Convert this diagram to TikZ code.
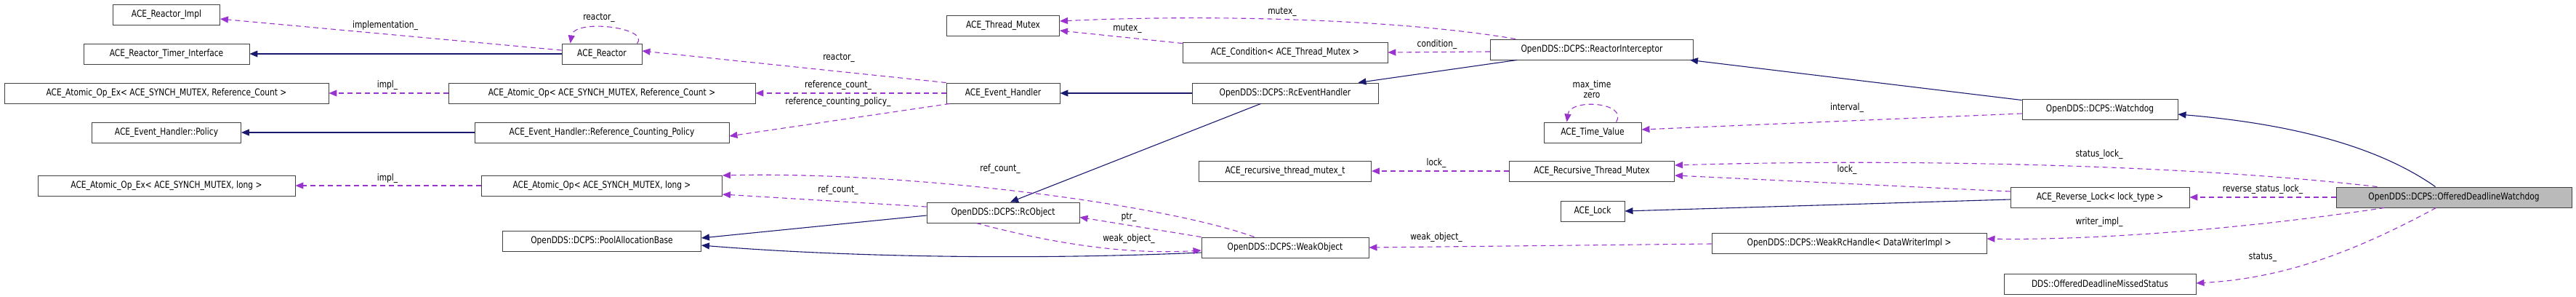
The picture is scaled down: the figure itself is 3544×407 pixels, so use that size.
\documentclass[tikz,border=0pt]{standalone}
\usepackage{fontspec}
\setmainfont{DejaVu Sans}[FakeStretch=0.82]
\usetikzlibrary{arrows.meta}
\definecolor{use}{HTML}{9A32CD}
\definecolor{inh}{HTML}{191970}
\begin{document}
\begin{tikzpicture}[x=1pt,y=-1pt,
  box/.style={draw=black!75,line width=0.9pt,rectangle,minimum height=28pt,inner sep=0pt,font=\fontsize{13}{14}\selectfont},
  lbl/.style={font=\fontsize{13}{14}\selectfont,inner sep=1pt},
  usea/.style={draw=use,line width=1.1pt,dash pattern=on 7pt off 5pt,-{Triangle[length=11pt,width=9pt,fill=use]}},
  inha/.style={draw=inh,line width=1.1pt,-{Triangle[length=11pt,width=9pt,fill=inh]}}]
\useasboundingbox (0,0) rectangle (3544,407);
% nodes
\node[box,minimum width=147] (rimpl) at (229,20) {ACE\_Reactor\_Impl};
\node[box,minimum width=228] (rti) at (229,74) {ACE\_Reactor\_Timer\_Interface};
\node[box,minimum width=446] (aoexrc) at (229,128) {ACE\_Atomic\_Op\_Ex< ACE\_SYNCH\_MUTEX, Reference\_Count >};
\node[box,minimum width=205] (pol) at (229,182) {ACE\_Event\_Handler::Policy};
\node[box,minimum width=354] (aoexl) at (229,255) {ACE\_Atomic\_Op\_Ex< ACE\_SYNCH\_MUTEX, long >};
\node[box,minimum width=110] (reac) at (828,74) {ACE\_Reactor};
\node[box,minimum width=422] (aorc) at (828,128) {ACE\_Atomic\_Op< ACE\_SYNCH\_MUTEX, Reference\_Count >};
\node[box,minimum width=350] (rcp) at (828,182) {ACE\_Event\_Handler::Reference\_Counting\_Policy};
\node[box,minimum width=331] (aol) at (828,255) {ACE\_Atomic\_Op< ACE\_SYNCH\_MUTEX, long >};
\node[box,minimum width=273] (pab) at (828,331) {OpenDDS::DCPS::PoolAllocationBase};
\node[box,minimum width=155] (tm) at (1380,35) {ACE\_Thread\_Mutex};
\node[box,minimum width=156] (eh) at (1380,128) {ACE\_Event\_Handler};
\node[box,minimum width=210] (rco) at (1380,292) {OpenDDS::DCPS::RcObject};
\node[box,minimum width=282] (cond) at (1768,72) {ACE\_Condition< ACE\_Thread\_Mutex >};
\node[box,minimum width=256] (rceh) at (1768,128) {OpenDDS::DCPS::RcEventHandler};
\node[box,minimum width=237] (rtm) at (1768,235) {ACE\_recursive\_thread\_mutex\_t};
\node[box,minimum width=230] (wo) at (1768,340) {OpenDDS::DCPS::WeakObject};
\node[box,minimum width=279] (ri) at (2190,68) {OpenDDS::DCPS::ReactorInterceptor};
\node[box,minimum width=134] (tv) at (2191,182) {ACE\_Time\_Value};
\node[box,minimum width=227] (rtmx) at (2190,235) {ACE\_Recursive\_Thread\_Mutex};
\node[box,minimum width=88] (lock) at (2191,290) {ACE\_Lock};
\node[box,minimum width=378] (wrh) at (2544,334) {OpenDDS::DCPS::WeakRcHandle< DataWriterImpl >};
\node[box,minimum width=214] (wd) at (2889,150) {OpenDDS::DCPS::Watchdog};
\node[box,minimum width=246] (rl) at (2889,271) {ACE\_Reverse\_Lock< lock\_type >};
\node[box,minimum width=324,fill=black!27] (odw) at (3376,271) {OpenDDS::DCPS::OfferedDeadlineWatchdog};
\node[box,minimum width=264] (odms) at (2889,390) {DDS::OfferedDeadlineMissedStatus};
% inheritance
\draw[inha] (reac) -- (rti);
\draw[inha] (rcp) -- (pol);
\draw[inha] (rceh) -- (eh);
\draw[inha] ([shift={(95,0)}]rceh.south west) -- ([shift={(10,0)}]rco.north);
\draw[inha] ([shift={(0,4)}]rco.west) -- ([shift={(0,-4)}]pab.east);
\draw[inha] ([shift={(0,7)}]wo.west) .. controls (1400,358) and (1150,352) .. ([shift={(0,6)}]pab.east);
\draw[inha] ([shift={(37,0)}]ri.south west) -- ([shift={(-28,0)}]rceh.north east);
\draw[inha] ([shift={(0,2)}]wd.north west) -- ([shift={(-5,0)}]ri.south east);
\draw[inha] ([shift={(137,0)}]odw.north west) .. controls (3270,200) and (3150,170) .. ([shift={(0,7)}]wd.east);
\draw[inha] ([shift={(0,3)}]rl.west) -- (lock.east);
% usage
\draw[usea] ([shift={(0,-5)}]reac.west) -- ([shift={(0,6)}]rimpl.east);
\node[lbl] (l1) at (530,35) {implementation\_};
\draw[usea] ([shift={(-7,0)}]reac.north east) .. controls (895,38) and (790,25) .. ([shift={(12,0)}]reac.north west);
\node[lbl] (l2) at (824,24) {reactor\_};
\draw[usea] (eh.north west) -- ([shift={(0,-4)}]reac.east);
\node[lbl] (l3) at (1154,79) {reactor\_};
\draw[usea] (aorc) -- (aoexrc);
\node[lbl] (l4) at (533,117) {impl\_};
\draw[usea] (eh) -- (aorc);
\node[lbl] (l5) at (1153,117) {reference\_count\_};
\draw[usea] ([shift={(5,0)}]eh.south west) -- ([shift={(0,5)}]rcp.east);
\node[lbl] (l6) at (1153,140) {reference\_counting\_policy\_};
\draw[usea] (aol) -- (aoexl);
\node[lbl] (l7) at (533,245) {impl\_};
\draw[usea] ([shift={(0,-8)}]rco.west) -- ([shift={(0,12)}]aol.east);
\node[lbl] (l8) at (1153,261) {ref\_count\_};
\draw[usea] ([shift={(73,0)}]wo.north west) .. controls (1600,280) and (1250,235) .. ([shift={(0,-14)}]aol.east);
\node[lbl] (l9) at (1376,232) {ref\_count\_};
\draw[usea] (wo.north west) -- ([shift={(0,-8)}]rco.south east);
\node[lbl] (l10) at (1553,298) {ptr\_};
\draw[usea] ([shift={(-37,0)}]rco.south) .. controls (1450,335) and (1550,350) .. ([shift={(0,4)}]wo.west);
\node[lbl] (l11) at (1553,328) {weak\_object\_};
\draw[usea] ([shift={(0,2)}]cond.north west) -- ([shift={(0,7)}]tm.east);
\node[lbl] (l12) at (1551,39) {mutex\_};
\draw[usea] ([shift={(35,0)}]ri.north west) .. controls (1950,30) and (1700,18) .. ([shift={(0,-6)}]tm.east);
\node[lbl] (l13) at (1764,16) {mutex\_};
\draw[usea] ([shift={(0,3)}]ri.west) -- (cond.east);
\node[lbl] (l14) at (1977,61) {condition\_};
\draw[usea] ([shift={(100,0)}]tv.north west) .. controls (2240,140) and (2160,135) .. ([shift={(32,0)}]tv.north west);
\node[lbl,align=center] (l15) at (2190,123) {max\_time\\zero};
\draw[usea] ([shift={(0,6)}]wd.west) -- ([shift={(0,-4)}]tv.east);
\node[lbl] (l16) at (2541,148) {interval\_};
\draw[usea] (rtmx) -- (rtm);
\node[lbl] (l17) at (1976,224) {lock\_};
\draw[usea] ([shift={(0,-8)}]rl.west) -- ([shift={(0,6)}]rtmx.east);
\node[lbl] (l18) at (2541,233) {lock\_};
\draw[usea] ([shift={(57,0)}]odw.north west) .. controls (3000,225) and (2600,218) .. ([shift={(0,-8)}]rtmx.east);
\node[lbl] (l19) at (2888,212) {status\_lock\_};
\draw[usea] (odw) -- (rl);
\node[lbl] (l20) at (3113,260) {reverse\_status\_lock\_};
\draw[usea] ([shift={(67,0)}]odw.south west) .. controls (3050,320) and (2850,330) .. ([shift={(0,-6)}]wrh.east);
\node[lbl] (l21) at (2888,305) {writer\_impl\_};
\draw[usea] ([shift={(138,0)}]odw.south west) .. controls (3250,340) and (3150,382) .. ([shift={(0,-1)}]odms.east);
\node[lbl] (l22) at (3113,353) {status\_};
\draw[usea] ([shift={(0,1)}]wrh.west) -- (wo.east);
\node[lbl] (l23) at (1976,326) {weak\_object\_};
\end{tikzpicture}
\end{document}
